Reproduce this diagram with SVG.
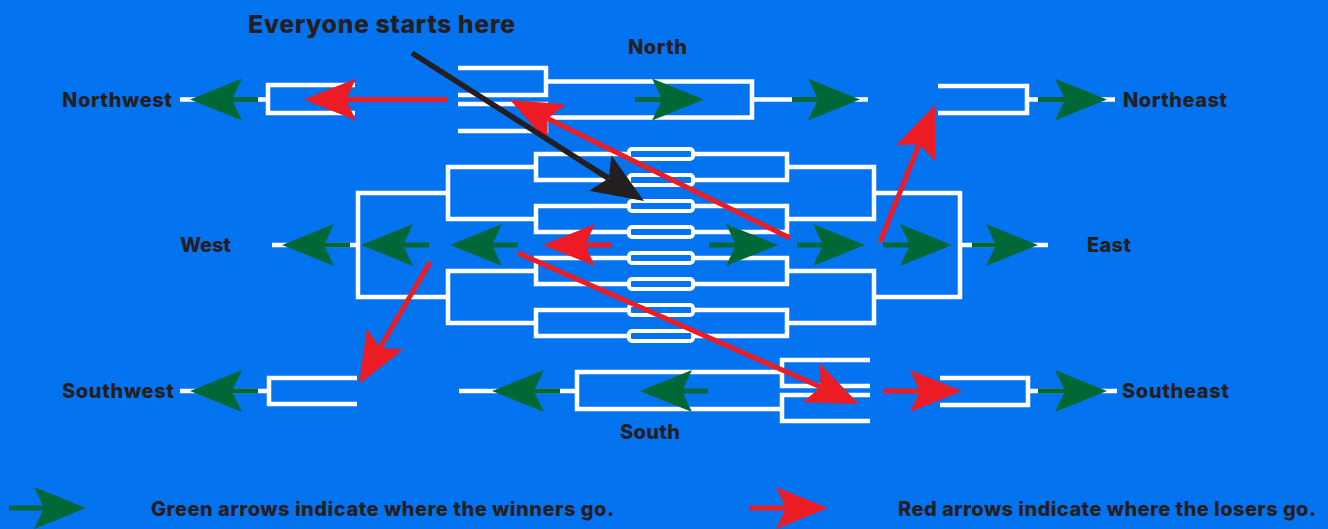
<svg xmlns="http://www.w3.org/2000/svg" width="1328" height="529" viewBox="0 0 1328 529">
<defs>
<style>
.br{fill:none;stroke:#ffffff;stroke-width:4.5}
.box{fill:none;stroke:#ffffff;stroke-width:4}
.g{stroke:#006837;stroke-width:5;fill:none;marker-end:url(#mg)}
.r{stroke:#ED1C24;stroke-width:5;fill:none;marker-end:url(#mr)}
.k{stroke:#231F20;stroke-width:5.5;fill:none;marker-end:url(#mk)}
.lbl{font-family:Inter,"Liberation Sans",Arial,sans-serif;font-weight:800;fill:#231F20;font-size:20px}
</style>
<marker id="mg" markerUnits="userSpaceOnUse" viewBox="0 0 52 42" markerWidth="52" markerHeight="42" refX="10" refY="21" orient="auto"><path d="M52,21 L0,0 L10,21 L0,42 Z" fill="#006837"/></marker>
<marker id="mr" markerUnits="userSpaceOnUse" viewBox="0 0 52 42" markerWidth="52" markerHeight="42" refX="10" refY="21" orient="auto"><path d="M52,21 L0,0 L10,21 L0,42 Z" fill="#ED1C24"/></marker>
<marker id="mk" markerUnits="userSpaceOnUse" viewBox="0 0 52 42" markerWidth="52" markerHeight="42" refX="10" refY="21" orient="auto"><path d="M52,21 L0,0 L10,21 L0,42 Z" fill="#231F20"/></marker>
</defs>
<rect x="0" y="0" width="1328" height="529" fill="#0473F0"/>

<g id="northwest">
<path class="br" d="M180,99.5 H268 M355,85 H268 V113 H355"/>
<text class="lbl" x="62" y="107" textLength="110">Northwest</text>
</g>

<g id="north">
<path class="br" d="M458,68 H546 V95 H458 M458,104 H546 V131 H458 M546,81.5 H752 V117.5 H546 M752,99.5 H868"/>
<text class="lbl" x="628" y="54" textLength="59">North</text>
</g>

<g id="northeast">
<path class="br" d="M938,86 H1027 V113 H938 M1027,99.5 H1115"/>
<text class="lbl" x="1123" y="107" textLength="104">Northeast</text>
</g>

<g id="center">
<rect class="box" x="629" y="149" width="64" height="10" rx="3"/>
<rect class="box" x="629" y="175" width="64" height="10" rx="3"/>
<rect class="box" x="629" y="201" width="64" height="10" rx="3"/>
<rect class="box" x="629" y="227" width="64" height="10" rx="3"/>
<rect class="box" x="629" y="253" width="64" height="10" rx="3"/>
<rect class="box" x="629" y="279" width="64" height="10" rx="3"/>
<rect class="box" x="629" y="305" width="64" height="10" rx="3"/>
<rect class="box" x="629" y="331" width="64" height="10" rx="3"/>
</g>

<g id="west">
<path class="br" d="M627,154 H536 V180 H627 M627,206 H536 V232 H627 M627,258 H536 V284 H627 M627,310 H536 V336 H627"/>
<path class="br" d="M536,167 H448 V219 H536 M536,271 H448 V323 H536"/>
<path class="br" d="M448,193 H358 V297 H448 M358,245 H272"/>
<text class="lbl" x="180" y="252" textLength="51">West</text>
</g>

<g id="east">
<path class="br" d="M695,154 H787 V180 H695 M695,206 H787 V232 H695 M695,258 H787 V284 H695 M695,310 H787 V336 H695"/>
<path class="br" d="M787,167 H874 V219 H787 M787,271 H874 V323 H787"/>
<path class="br" d="M874,193 H960 V297 H874 M960,245 H1048"/>
<text class="lbl" x="1087" y="252" textLength="44">East</text>
</g>

<g id="southwest">
<path class="br" d="M180,391 H269 M357,378 H269 V404 H357"/>
<text class="lbl" x="62" y="398" textLength="112">Southwest</text>
</g>

<g id="south">
<path class="br" d="M459,391 H577 M782,372 H577 V409 H782 M870,360 H782 V386 H870 M870,395 H782 V421 H870"/>
<text class="lbl" x="620" y="439" textLength="60">South</text>
</g>

<g id="southeast">
<path class="br" d="M940,378 H1028 V405 H940 M1028,391 H1117"/>
<text class="lbl" x="1122" y="398" textLength="107">Southeast</text>
</g>

<g id="title">
<text class="lbl" x="248" y="33" style="font-size:25px" textLength="267">Everyone starts here</text>
</g>

<g id="connectors">
<line class="g" x1="258" y1="99.5" x2="232" y2="99.5"/>
<line class="r" x1="448" y1="99.5" x2="346" y2="99.5"/>
<line class="g" x1="635" y1="99.5" x2="662" y2="99.5"/>
<line class="g" x1="792" y1="99.5" x2="818" y2="99.5"/>
<line class="g" x1="1038" y1="99.5" x2="1065" y2="99.5"/>

<line class="g" x1="350" y1="245" x2="324" y2="245"/>
<line class="g" x1="429" y1="245" x2="403" y2="245"/>
<line class="g" x1="518" y1="245" x2="492" y2="245"/>
<line class="r" x1="612" y1="245" x2="585" y2="245"/>
<line class="g" x1="709" y1="245" x2="736" y2="245"/>
<line class="g" x1="797" y1="245" x2="823" y2="245"/>
<line class="g" x1="883" y1="245" x2="910" y2="245"/>
<line class="g" x1="972" y1="245" x2="996" y2="245"/>

<line class="g" x1="258" y1="391" x2="232" y2="391"/>
<line class="g" x1="560" y1="391" x2="534" y2="391"/>
<line class="g" x1="708" y1="391" x2="682" y2="391"/>
<line class="r" x1="883" y1="391" x2="920" y2="391"/>
<line class="g" x1="1038" y1="391" x2="1065" y2="391"/>

<line class="r" x1="790" y1="238" x2="547.7" y2="118.6"/>
<line class="r" x1="880" y1="242" x2="919.3" y2="143.9"/>
<line class="r" x1="430" y1="262" x2="380.1" y2="347.7"/>
<line class="r" x1="518" y1="253" x2="820.6" y2="387"/>
<line class="k" x1="412" y1="53" x2="608.6" y2="178.4"/>
</g>

<g id="legend">
<line class="g" x1="9" y1="508" x2="44" y2="508"/>
<text class="lbl" x="151" y="516" textLength="463">Green arrows indicate where the winners go.</text>
<line class="r" x1="750" y1="508" x2="786" y2="508"/>
<text class="lbl" x="898" y="516" textLength="418">Red arrows indicate where the losers go.</text>
</g>
</svg>
